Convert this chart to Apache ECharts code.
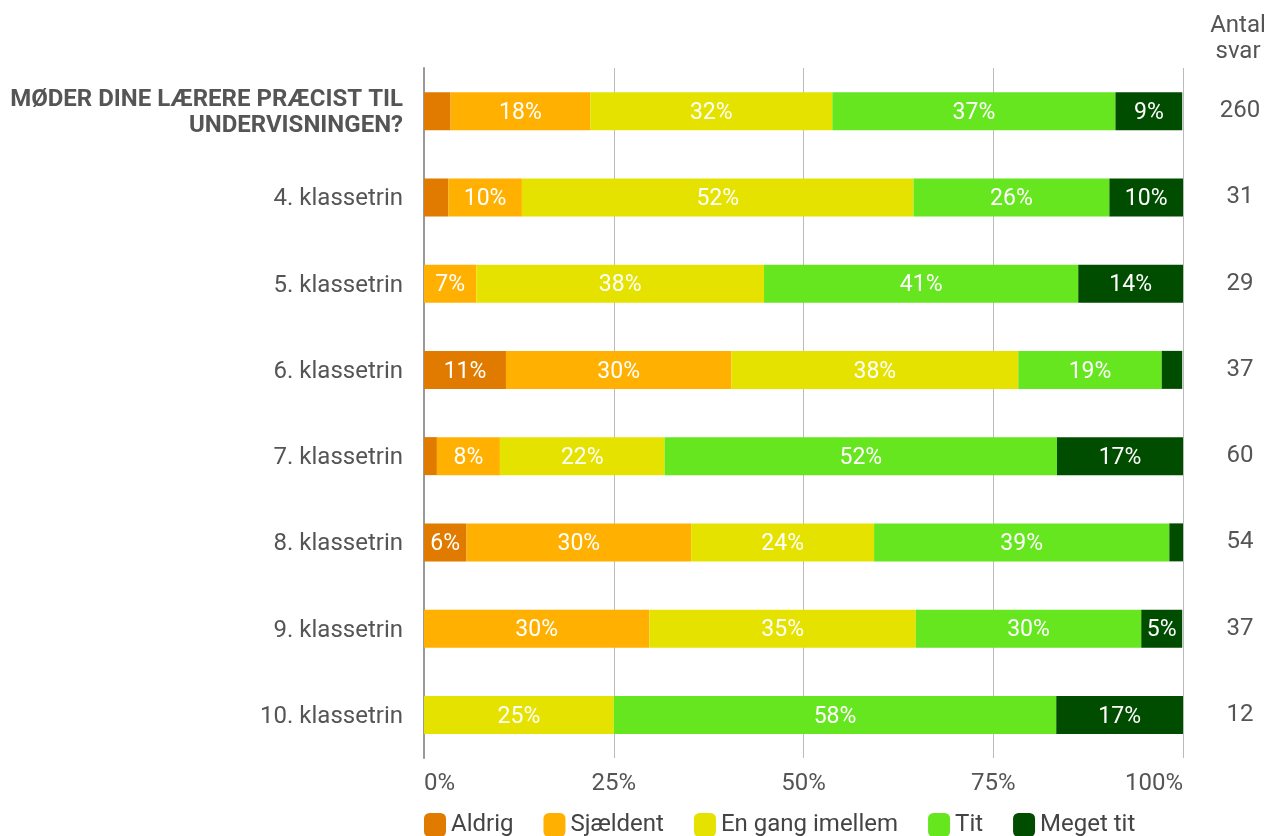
<!DOCTYPE html>
<html>
<head>
<meta charset="utf-8">
<script src="https://cdn.jsdelivr.net/npm/echarts@6/dist/echarts.min.js"></script>
<style>html,body{margin:0;padding:0;background:#fff}#c{width:1270px;height:836px}</style>
</head>
<body>
<div id="c"></div>
<script>
const categories = ['MØDER DINE LÆRERE PRÆCIST TIL\nUNDERVISNINGEN?', '4. klassetrin', '5. klassetrin', '6. klassetrin', '7. klassetrin', '8. klassetrin', '9. klassetrin', '10. klassetrin'];
const counts = [260, 31, 29, 37, 60, 54, 37, 12];
const seriesNames = ['Aldrig', 'Sjældent', 'En gang imellem', 'Tit', 'Meget tit'];
const aldrig = [3.5, 3.2, 0, 10.8, 1.7, 5.6, 0, 0];
const sjaeldent = [18.4, 9.7, 6.9, 29.7, 8.3, 29.6, 29.7, 0];
const engang = [31.9, 51.6, 37.9, 37.8, 21.7, 24.1, 35.1, 25.0];
const tit = [37.3, 25.8, 41.4, 18.9, 51.7, 38.9, 29.7, 58.3];
const meget = [8.8, 9.7, 13.8, 2.7, 16.7, 1.9, 5.4, 16.7];
const xTicks = [0, 25, 50, 75, 100];
const colors = ['#e07b00', '#ffb000', '#e6e200', '#66e61e', '#004d00'];

const FONT = 'Roboto';
const TXT = '#555';
const values = [aldrig, sjaeldent, engang, tit, meget];

const chart = echarts.init(document.getElementById('c'));
chart.setOption({
  animation: false,
  textStyle: { fontFamily: FONT },
  grid: { left: 424, right: 87, top: 68, bottom: 78, containLabel: false },
  legend: {
    data: seriesNames,
    left: 424, top: 813, padding: 0,
    icon: 'roundRect', itemWidth: 22, itemHeight: 24, itemGap: 30,
    textStyle: { fontSize: 24, color: '#444', fontFamily: FONT }
  },
  xAxis: {
    type: 'value', min: xTicks[0], max: xTicks[xTicks.length - 1], interval: 25,
    axisLine: { show: false }, axisTick: { show: false },
    splitLine: { lineStyle: { color: '#bbb', width: 1 } },
    axisLabel: {
      formatter: '{value}%', fontSize: 24, color: TXT, margin: 14, fontFamily: FONT,
      alignMinLabel: 'left', alignMaxLabel: 'right'
    }
  },
  yAxis: [{
    type: 'category', data: categories, inverse: true,
    axisLine: { show: true, lineStyle: { color: '#999', width: 2 } },
    axisTick: { show: false },
    axisLabel: {
      fontSize: 24, color: TXT, margin: 21, fontFamily: FONT, padding: [4, 0, 0, 0],
      formatter: function (v, i) {
        if (i === 0) return v.split('\n').map(s => '{b|' + s + '}').join('\n');
        return v;
      },
      rich: { b: { fontWeight: 'bold', fontSize: 24, lineHeight: 26, color: TXT, fontFamily: FONT, align: 'right' } }
    }
  }, {
    type: 'category', data: counts.map(String), inverse: true, position: 'right',
    axisLine: { show: false }, axisTick: { show: false }, splitLine: { show: false },
    axisLabel: { align: 'center', margin: 57, fontSize: 24, color: TXT, fontFamily: FONT, padding: [4, 0, 0, 0] }
  }],
  graphic: [{
    type: 'text', x: 1238, y: 39,
    style: { text: 'Antal\nsvar', align: 'center', verticalAlign: 'middle', fontSize: 24, lineHeight: 26, fill: TXT, fontFamily: FONT }
  }],
  series: seriesNames.map((name, k) => ({
    name: name, type: 'bar', stack: 'total', yAxisIndex: 0,
    barWidth: 38,
    itemStyle: { color: colors[k] },
    label: {
      show: true, position: 'inside', color: '#fff', fontSize: 23, fontFamily: FONT, offset: [0, 2],
      formatter: p => p.value >= 5 ? Math.round(p.value) + '%' : ''
    },
    data: values[k]
  }))
});
</script>
</body>
</html>
